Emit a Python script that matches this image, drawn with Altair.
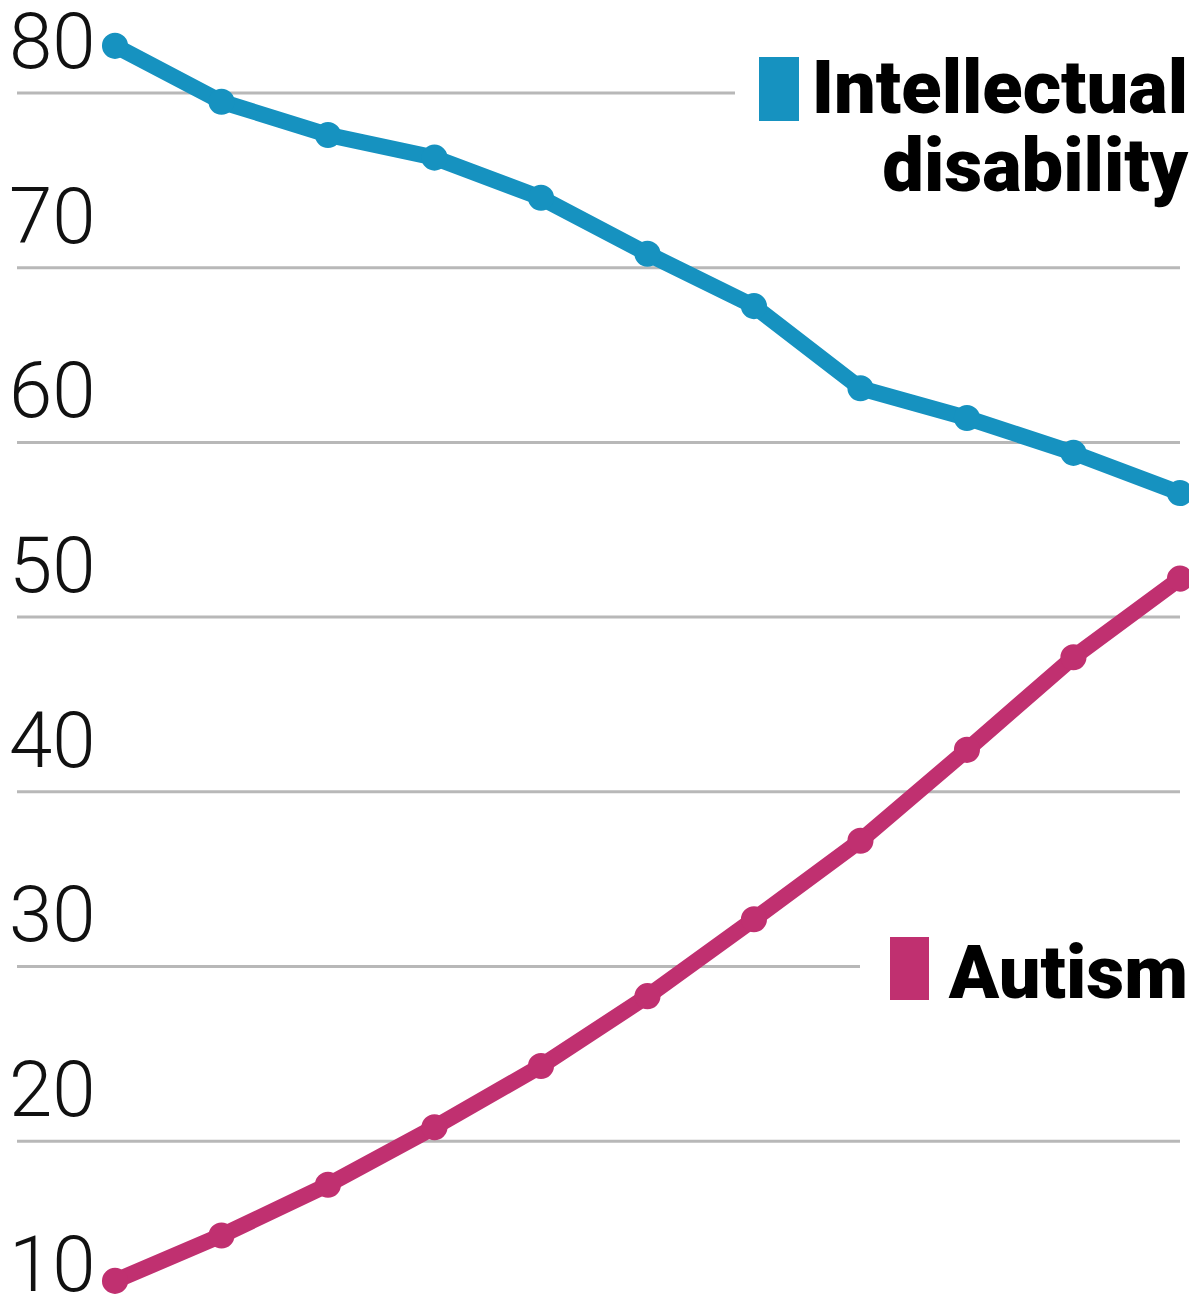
import altair as alt
import pandas as pd

# --- data ---
steps = list(range(1, 12))
intellectual = [82.7, 79.5, 77.6, 76.3, 74.0, 70.8, 67.8, 63.1, 61.4, 59.4, 57.1]
autism = [12.0, 14.6, 17.5, 20.8, 24.3, 28.3, 32.7, 37.2, 42.4, 47.7, 52.2]
tick_values = [10, 20, 30, 40, 50, 60, 70, 80]
full_grid = [20, 40, 50, 60, 70]

TEAL = "#1692c0"
MAGENTA = "#c03070"
GRID = "#b8b8b8"

W, H = 1181, 1286
xscale = alt.Scale(domain=[-0.0047, 11.085], nice=False, zero=False)
yscale = alt.Scale(domain=[11.25, 84.866], nice=False, zero=False)

df = pd.DataFrame(
    {
        "step": steps * 2,
        "value": intellectual + autism,
        "series": ["Intellectual disability"] * len(steps) + ["Autism"] * len(steps),
    }
)
color = alt.Color(
    "series:N",
    scale=alt.Scale(domain=["Intellectual disability", "Autism"], range=[TEAL, MAGENTA]),
    legend=None,
)
X = alt.X("step:Q", scale=xscale, axis=None)
Y = alt.Y("value:Q", scale=yscale, axis=None)

grid_full = (
    alt.Chart(pd.DataFrame({"value": full_grid}))
    .mark_rule(color=GRID, strokeWidth=3)
    .encode(y=Y, x=alt.value(9), x2=alt.value(1172))
)
grid_80 = (
    alt.Chart(pd.DataFrame({"value": [80]}))
    .mark_rule(color=GRID, strokeWidth=3)
    .encode(y=Y, x=alt.value(9), x2=alt.value(727))
)
grid_30 = (
    alt.Chart(pd.DataFrame({"value": [30]}))
    .mark_rule(color=GRID, strokeWidth=3)
    .encode(y=Y, x=alt.value(9), x2=alt.value(852))
)

tick_labels = (
    alt.Chart(pd.DataFrame({"value": tick_values}))
    .mark_text(
        align="left",
        baseline="alphabetic",
        dy=-25,
        font="Roboto",
        fontWeight=300,
        fontSize=78,
        color="#111111",
    )
    .encode(y=Y, x=alt.value(1), text=alt.Text("value:Q"))
)

lines = (
    alt.Chart(df)
    .mark_line(strokeWidth=16, strokeJoin="round")
    .encode(x=X, y=Y, color=color, detail="series:N")
)
points = (
    alt.Chart(df)
    .mark_circle(size=680, opacity=1)
    .encode(x=X, y=Y, color=color)
)

LEGEND_FONT = "Roboto"

sw_id = (
    alt.Chart(pd.DataFrame({"k": [0]}))
    .mark_rect(color=TEAL)
    .encode(x=alt.value(751), x2=alt.value(791), y=alt.value(49), y2=alt.value(113))
)
sw_au = (
    alt.Chart(pd.DataFrame({"k": [0]}))
    .mark_rect(color=MAGENTA)
    .encode(x=alt.value(882), x2=alt.value(921), y=alt.value(929), y2=alt.value(992))
)


def legend_text(label, y):
    return (
        alt.Chart(pd.DataFrame({"label": [label]}))
        .mark_text(
            align="right",
            baseline="alphabetic",
            font=LEGEND_FONT,
            fontWeight=900,
            fontSize=74,
            color="#000000",
        )
        .encode(x=alt.value(1180), y=alt.value(y), text="label:N")
    )


chart = (
    alt.layer(
        grid_full,
        grid_80,
        grid_30,
        tick_labels,
        lines,
        points,
        sw_id,
        sw_au,
        legend_text("Intellectual", 105),
        legend_text("disability", 183),
        legend_text("Autism", 990),
    )
    .properties(
        width=W,
        height=H,
        padding=0,
        autosize=alt.AutoSizeParams(type="none"),
        background="white",
    )
    .configure_view(stroke=None)
)

chart.save("out.html", embed_options={"renderer": "svg", "actions": False})
